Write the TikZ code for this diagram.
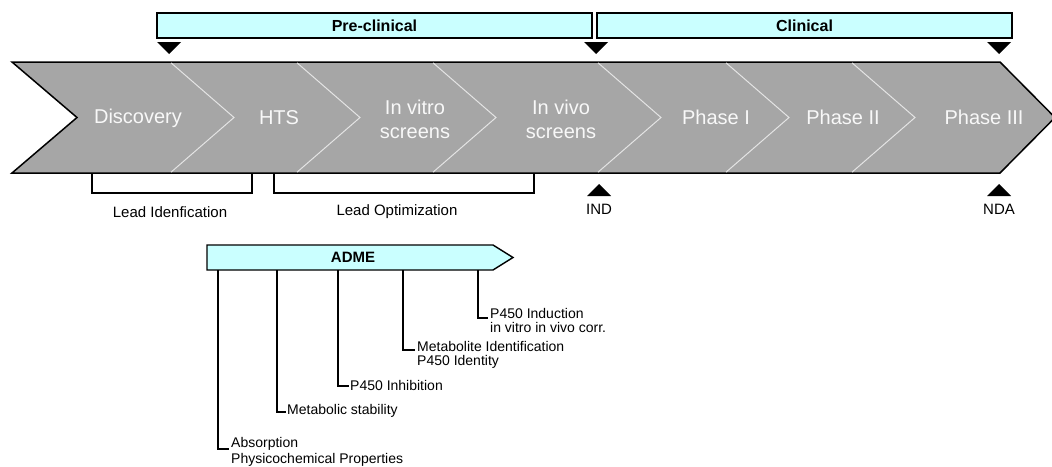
\documentclass[tikz,border=0pt]{standalone}
\usepackage{fontspec}
\setmainfont{Liberation Sans}
\definecolor{chev}{RGB}{166,166,166}
\definecolor{barcyan}{RGB}{202,255,255}
\definecolor{chevtext}{RGB}{248,248,248}
\definecolor{divline}{RGB}{228,228,228}
\tikzset{
  chevlabel/.style={text=chevtext, font=\fontsize{20}{24}\selectfont, align=center, inner sep=0pt},
  barbox/.style={draw=black, line width=1.4pt, fill=barcyan},
  barlabel/.style={font=\bfseries\fontsize{16}{19}\selectfont, inner sep=0pt},
  smalllabel/.style={font=\fontsize{15}{18}\selectfont, inner sep=0pt},
  itemlabel/.style={font=\fontsize{14}{16}\selectfont, inner sep=0pt, anchor=west},
  bracketline/.style={draw=black, line width=1.4pt},
  conn/.style={draw=black, line width=1.4pt},
  divider/.style={draw=divline, line width=1pt},
  marker/.style={fill=black, draw=none}
}
\begin{document}
\begin{tikzpicture}[x=1pt,y=-1pt]
\useasboundingbox (0,0) rectangle (1052,466);
% main chevron
\path[fill=chev, draw=black, line width=1.5pt, line join=miter]
  (12,62) -- (1000,62) -- (1055,117.5) -- (1000,173) -- (12,173) -- (77,117.5) -- cycle;
% dividers
\foreach \x in {171,297,433,598,726,852}
  \draw[divider] (\x,62.8) -- (\x+63,117.5) -- (\x,172.2);
% chevron labels
\node[chevlabel] (disc) at (138,118) {Discovery};
\node[chevlabel] (hts) at (279,118) {HTS};
\node[chevlabel] (vitro) at (415,119) {In vitro\\screens};
\node[chevlabel] (vivo) at (561,119) {In vivo\\screens};
\node[chevlabel] (ph1) at (716,117) {Phase I};
\node[chevlabel] (ph2) at (843,117) {Phase II};
\node[chevlabel] (ph3) at (984,117) {Phase III};
% top bars
\path[barbox] (157,13) rectangle (592,38);
\node[barlabel] (pre) at (374.5,25.5) {Pre-clinical};
\path[barbox] (597,13) rectangle (1012,38);
\node[barlabel] (clin) at (804.5,25.5) {Clinical};
% markers
\fill[marker] (157,42) -- (181,42) -- (169,54) -- cycle;
\fill[marker] (584,42) -- (608,42) -- (596,54) -- cycle;
\fill[marker] (987,42) -- (1011,42) -- (999,54) -- cycle;
\fill[marker] (587,196) -- (611,196) -- (599,184) -- cycle;
\fill[marker] (987,196) -- (1011,196) -- (999,184) -- cycle;
\node[smalllabel] (ind) at (599,209) {IND};
\node[smalllabel] (nda) at (999,209) {NDA};
% brackets
\draw[bracketline] (92,173) -- (92,193) -- (252,193) -- (252,173);
\draw[bracketline] (274,173) -- (274,193) -- (534,193) -- (534,173);
\node[smalllabel] (leadid) at (170,212) {Lead Idenfication};
\node[smalllabel] (leadopt) at (397,212) {Lead Optimization};
% ADME arrow
\path[barbox, line join=miter] (207,245) -- (493,245) -- (513,257.5) -- (493,270) -- (207,270) -- cycle;
\node[font=\bfseries\fontsize{15}{18}\selectfont, inner sep=0pt] (adme) at (353,257.5) {ADME};
\coordinate (a1) at (218,270);
\coordinate (a2) at (277,270);
\coordinate (a3) at (338,270);
\coordinate (a4) at (403,270);
\coordinate (a5) at (478,270);
% items
\node[itemlabel] (abs1) at (231,444) {Absorption};
\node[itemlabel] (abs2) at (231,460) {Physicochemical Properties};
\node[itemlabel] (met) at (287,411) {Metabolic stability};
\node[itemlabel] (inh) at (350,385) {P450 Inhibition};
\node[itemlabel] (mid1) at (417,346) {Metabolite Identification};
\node[itemlabel] (mid2) at (417,362) {P450 Identity};
\node[itemlabel] (ind1) at (490,313) {P450 Induction};
\node[itemlabel] (ind2) at (490,327) {in vitro in vivo corr.};
\draw[conn] (a1) |- ([xshift=-2pt,yshift=-5pt]abs1.west);
\draw[conn] (a2) |- ([xshift=-1pt,yshift=-1pt]met.west);
\draw[conn] (a3) |- ([xshift=-1pt,yshift=-1pt]inh.west);
\draw[conn] (a4) |- ([xshift=-2pt,yshift=-4pt]mid1.west);
\draw[conn] (a5) |- ([xshift=-2pt,yshift=-5pt]ind1.west);
\end{tikzpicture}
\end{document}
